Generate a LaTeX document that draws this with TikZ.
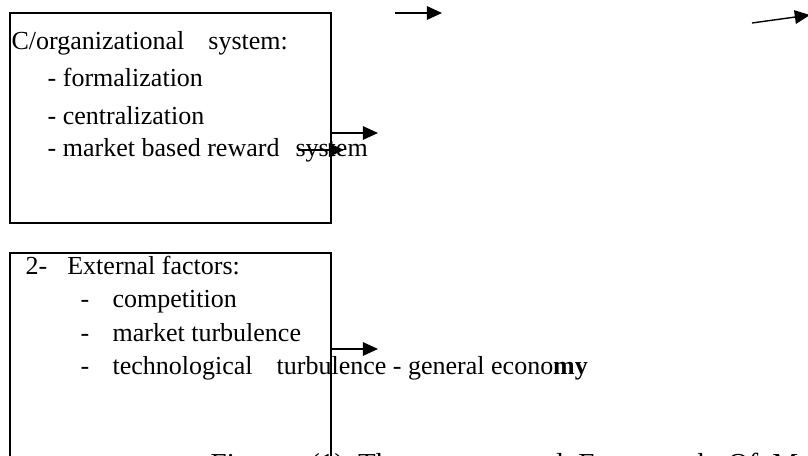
\documentclass[tikz,border=0pt]{standalone}
\usepackage{fontspec}
\setmainfont{Liberation Serif}
\usetikzlibrary{arrows.meta}
\begin{document}
\begin{tikzpicture}[>={Triangle[length=0.38cm,width=0.34cm]}, line width=1pt,
  txt/.style={anchor=base west, inner sep=0pt, font=\fontsize{18.5}{22}\selectfont},
  captxt/.style={anchor=base west, inner sep=0pt, font=\fontsize{20.6}{24}\selectfont},
  box/.style={draw, minimum width=8.025cm, inner sep=0pt}]
  \useasboundingbox (0,0) rectangle (20.2,11.4);
  \clip (0,0) rectangle (20.2,11.4);
  % organizational system
  \node [box, minimum height=5.25cm] (orgbox) at (4.2625,8.45) {};
  \draw (0.27,10.15) node [txt] (orgtitle) {C/organizational\hspace{0.6cm}system:};
  \draw (1.175,9.225) node [txt] (formal) {- formalization};
  \draw (1.175,8.275) node [txt] (central) {- centralization};
  \draw (1.175,7.475) node [txt] (reward) {- market based reward\hspace{0.4cm}system};
  % external factors
  \node [box, minimum height=6.075cm] (extbox) at (4.2625,2.0375) {};
  \draw (0.625,4.525) node [txt] (exttitle) {2-\hspace{0.5cm}External factors:};
  \draw (2.0,3.7) node [txt] (compet) {-\hspace{0.58cm}competition};
  \draw (2.0,2.85) node [txt] (markturb) {-\hspace{0.58cm}market turbulence};
  \draw (2.0,2.025) node [txt] (techturb) {-\hspace{0.58cm}technological\hspace{0.6cm}turbulence - general econo\textbf{my}};
  % arrows
  \coordinate (orgout) at (orgbox.east |- 0,8.075);
  \coordinate (orgend) at (9.45,8.075);
  \coordinate (sysin) at (7.45,7.65);
  \coordinate (sysend) at (8.6,7.65);
  \coordinate (extout) at (extbox.east |- 0,2.675);
  \coordinate (extend) at (9.45,2.675);
  \coordinate (topa) at (9.875,11.075);
  \coordinate (topb) at (11.05,11.075);
  \coordinate (topc) at (18.8,10.825);
  \coordinate (topd) at (20.25,11.025);
  \draw [->] (orgout) -- (orgend);
  \draw [->] (sysin) -- (sysend);
  \draw [->] (extout) -- (extend);
  \draw [->] (topa) -- (topb);
  \draw [->] (topc) -- (topd);
  % caption, cut by the page
  \draw (5.25,-0.45) node [captxt] (caption) {Figure\hspace{0.6cm}(1)\hspace{0.35cm}The\hspace{1.35cm}proposed\hspace{0.375cm}Framework\hspace{0.4cm}Of\hspace{0.35cm}M};
\end{tikzpicture}
\end{document}
